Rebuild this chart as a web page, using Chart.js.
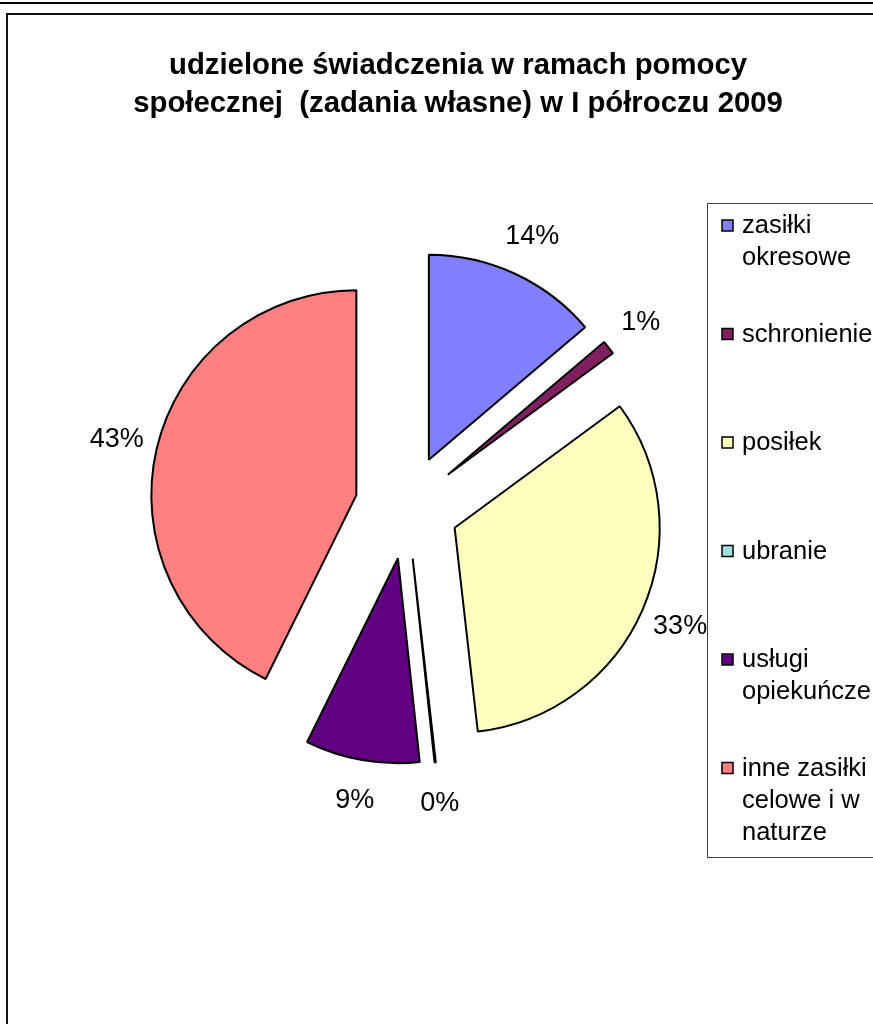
<!DOCTYPE html>
<html>
<head>
<meta charset="utf-8">
<script src="https://cdn.jsdelivr.net/npm/chart.js@4.4.0/dist/chart.umd.min.js"></script>
<style>
  html, body { margin: 0; padding: 0; background: #fff; }
  #wrap { position: relative; width: 873px; height: 1024px; overflow: hidden; }
  #topRule { position: absolute; left: 0; top: 2px; width: 873px; height: 2px; background: #000; }
  #frame { position: absolute; left: 6px; top: 13px; width: 900px; height: 1100px; border-left: 2px solid #111; border-top: 2px solid #111; }
  canvas { position: absolute; left: 0; top: 0; }
</style>
</head>
<body>
<div id="wrap">
  <div id="topRule"></div>
  <div id="frame"></div>
  <canvas id="chartCanvas" width="873" height="1024"></canvas>
</div>
<script>
const categories = ["zasiłki okresowe", "schronienie", "posiłek", "ubranie", "usługi opiekuńcze", "inne zasiłki celowe i w naturze"];
const shares = [13.8, 1.1, 33.3, 0.1, 9.0, 42.7];
const sliceColors = ["#8080FF", "#802060", "#FFFFC0", "#A0E0E0", "#600080", "#FF8080"];
const titleLines = ["udzielone świadczenia w ramach pomocy", "społecznej  (zadania własne) w I półroczu 2009"];

const FONT = '"Liberation Sans", Arial, sans-serif';
const EXPLODE = 52; // how far every slice is pulled out, px

const total = shares.reduce((a, b) => a + b, 0);

// chart.js moves a slice by offset/4, but also grows its radius by offset/4 * (1 - sin(angle))
// and trims the angle; undo both so every slice keeps its true size
const evenExplode = {
  id: "evenExplode",
  afterDatasetUpdate(chart, args) {
    const meta = args.meta;
    const baseR = meta.controller.outerRadius;
    meta.data.forEach(arc => {
      const fix = 1 - Math.sin(Math.min(Math.PI, arc.circumference));
      const rOff = EXPLODE * fix;
      const widen = rOff / Math.PI / baseR / 2;
      arc.outerRadius = baseR - rOff;
      arc.startAngle -= widen;
      arc.endAngle += widen;
    });
  }
};

const sliceLabels = {
  id: "sliceLabels",
  afterDatasetsDraw(chart) {
    const ctx = chart.ctx;
    const meta = chart.getDatasetMeta(0);
    const baseR = meta.controller.outerRadius;
    ctx.save();
    ctx.font = "27px " + FONT;
    ctx.fillStyle = "#000";
    ctx.textAlign = "center";
    ctx.textBaseline = "middle";
    meta.data.forEach((arc, i) => {
      const mid = (arc.startAngle + arc.endAngle) / 2;
      const r = baseR + EXPLODE + 41;
      ctx.fillText(Math.round(shares[i] / total * 100) + "%", arc.x + Math.cos(mid) * r, arc.y + Math.sin(mid) * r);
    });
    ctx.restore();
  }
};

function wrapText(ctx, text, maxWidth) {
  const words = text.split(" ");
  const lines = [];
  let line = "";
  words.forEach(w => {
    const test = line ? line + " " + w : w;
    if (line && ctx.measureText(test).width > maxWidth) {
      lines.push(line);
      line = w;
    } else {
      line = test;
    }
  });
  if (line) lines.push(line);
  return lines;
}

const titleAndLegend = {
  id: "titleAndLegend",
  afterDraw(chart) {
    const ctx = chart.ctx;
    ctx.save();

    // title
    ctx.font = "bold 29.3px " + FONT;
    ctx.fillStyle = "#000";
    ctx.textAlign = "center";
    ctx.textBaseline = "middle";
    titleLines.forEach((t, i) => ctx.fillText(t, 458, 66 + i * 38));

    // legend box
    ctx.fillStyle = "#fff";
    ctx.fillRect(707, 203, 200, 654);
    ctx.strokeStyle = "#404040";
    ctx.lineWidth = 1;
    ctx.strokeRect(707.5, 203.5, 200, 654);

    ctx.font = "25.5px " + FONT;
    ctx.textAlign = "left";
    categories.forEach((name, i) => {
      const cy = 226 + i * 108.5;
      ctx.fillStyle = sliceColors[i];
      ctx.fillRect(722, cy - 6, 11, 11);
      ctx.strokeStyle = "#000";
      ctx.lineWidth = 1.5;
      ctx.strokeRect(722, cy - 6, 11, 11);
      ctx.fillStyle = "#000";
      wrapText(ctx, name, 134).forEach((ln, k) => ctx.fillText(ln, 742, cy + k * 32));
    });
    ctx.restore();
  }
};

new Chart(document.getElementById("chartCanvas"), {
  type: "pie",
  data: {
    labels: categories,
    datasets: [{
      data: shares,
      backgroundColor: sliceColors,
      borderColor: "#000",
      borderWidth: 2,
      offset: 4 * EXPLODE
    }]
  },
  options: {
    responsive: false,
    devicePixelRatio: 1,
    animation: false,
    events: [],
    radius: 205,
    layout: { padding: { left: 0, right: 59, top: 0, bottom: 10 } },
    plugins: {
      legend: { display: false },
      tooltip: { enabled: false },
      title: { display: false }
    }
  },
  plugins: [evenExplode, sliceLabels, titleAndLegend]
});
</script>
</body>
</html>
